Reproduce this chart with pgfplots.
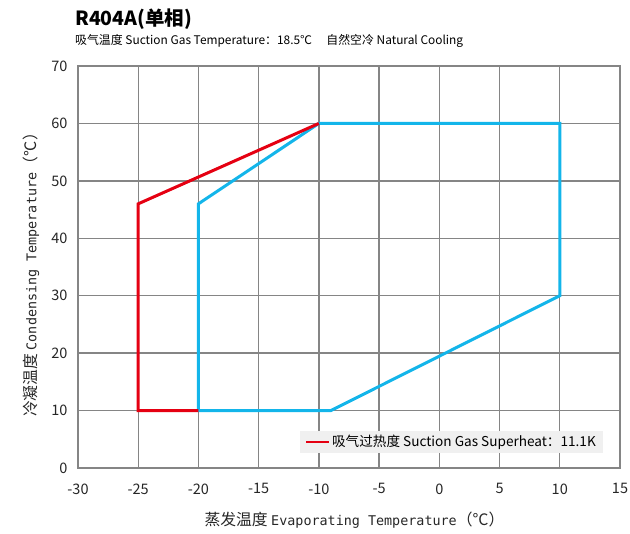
\documentclass[border=0pt]{standalone}
\usepackage{fontspec}
\setmainfont{Noto Sans CJK SC}
\newfontfamily\monolat{DejaVu Sans Mono}
\usepackage{pgfplots}
\pgfplotsset{compat=1.18}
\definecolor{cred}{HTML}{E50012}
\definecolor{cblue}{HTML}{13B5EA}
\definecolor{cgrid}{HTML}{858585}
\definecolor{clegbg}{HTML}{F0F0F0}
\newcommand{\lat}[1]{{\monolat\fontsize{13.4bp}{15bp}\selectfont #1}}
\begin{document}
\begin{tikzpicture}
\begin{axis}[
  scale only axis,
  width=542bp, height=402bp,
  xmin=-30, xmax=15, ymin=0, ymax=70,
  xtick={-30,-25,...,15}, ytick={0,10,...,70},
  grid=major,
  major grid style={cgrid, line width=1.4bp},
  axis line style={cgrid, line width=2.4bp},
  major tick length=0pt,
  /pgf/number format/assume math mode=true,
  ticklabel style={font=\fontsize{14.5bp}{16bp}\selectfont, text=black!85},
  xticklabel style={yshift=-12bp},
  yticklabel style={xshift=-7bp},
  xlabel={蒸发温度 \lat{Evaporating Temperature}（°C）},
  ylabel={冷凝温度 \lat{Condensing Temperature}（°C）},
  label style={font=\fontsize{15.8bp}{17bp}\selectfont, text=black!85},
  xlabel style={at={(rel axis cs:0.51,-0.1293)}, anchor=center},
  ylabel style={at={(rel axis cs:-0.0867,0.49)}, anchor=center},
  legend style={at={(rel axis cs:0.9686,0.037)}, anchor=south east,
    fill=clegbg, draw=none, font=\fontsize{13.6bp}{15bp}\selectfont,
    inner xsep=5bp, inner ysep=2.5bp},
  legend image code/.code={\draw[#1, line width=2.2bp] (0bp,0bp) -- (23bp,0bp);},
  legend cell align=left,
  clip=false,
]
\addplot[cblue, line width=3bp, forget plot] coordinates {
  (-20,10) (-20,46) (-10,60) (10,60) (10,30) (-9,10) (-20,10)
};
\addplot[cred, line width=3bp] coordinates {
  (-20,10) (-25,10) (-25,46) (-10,60)
};
\addlegendentry{吸气过热度 Suction Gas Superheat：11.1K}
\coordinate (bl) at (rel axis cs:0,0);
\coordinate (tr) at (rel axis cs:1,1);
\coordinate (tl) at (rel axis cs:0,1);
\end{axis}
\node[anchor=base west, font=\fontsize{19.5bp}{21bp}\selectfont\bfseries, inner sep=0pt] at ([shift={(-3bp,40bp)}]tl) {R404A(单相)};
\node[anchor=base west, font=\fontsize{11.9bp}{13bp}\selectfont, inner sep=0pt] at ([shift={(-3bp,21bp)}]tl) {吸气温度 Suction Gas Temperature：18.5℃\hspace{1.2em}自然空冷 Natural Cooling};
\pgfresetboundingbox
\path ([shift={(-78bp,-66bp)}]bl) rectangle ([shift={(10bp,66bp)}]tr);
\end{tikzpicture}
\end{document}
